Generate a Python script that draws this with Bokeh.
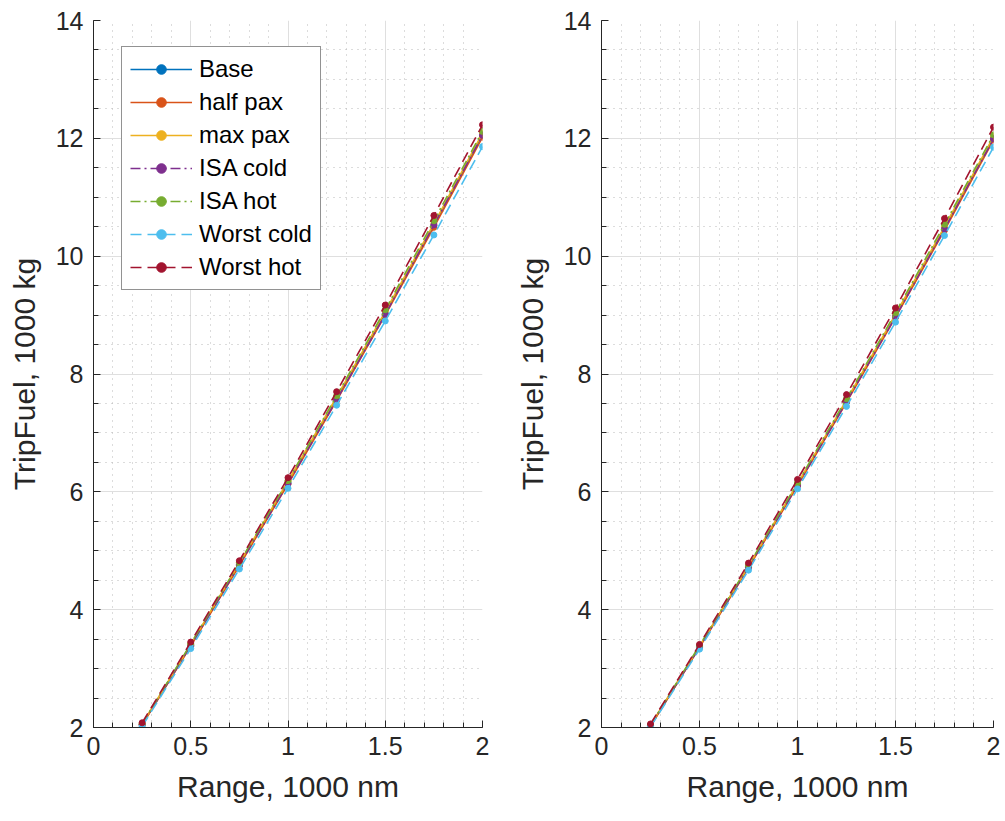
import numpy as np
from bokeh.plotting import figure
from bokeh.layouts import row
from bokeh.models import Range1d, FixedTicker, Legend, LegendItem
from bokeh.embed import file_html
from bokeh.resources import INLINE

rng = [0.25, 0.5, 0.75, 1.0, 1.25, 1.5, 1.75, 2.0]
names = ["Base", "half pax", "max pax", "ISA cold", "ISA hot", "Worst cold", "Worst hot"]

left_base = [2.05, 3.40, 4.77, 6.16, 7.58, 9.03, 10.52, 12.06]
left_half = [2.04, 3.38, 4.75, 6.13, 7.55, 9.00, 10.49, 12.02]
left_max = [2.06, 3.41, 4.79, 6.18, 7.61, 9.06, 10.55, 12.09]
left_isacold = [2.05, 3.39, 4.76, 6.14, 7.56, 9.01, 10.53, 12.05]
left_isahot = [2.06, 3.42, 4.80, 6.19, 7.63, 9.09, 10.60, 12.12]
left_worstcold = [2.02, 3.34, 4.69, 6.06, 7.47, 8.90, 10.36, 11.86]
left_worsthot = [2.08, 3.45, 4.83, 6.24, 7.70, 9.17, 10.69, 12.23]

right_base = [2.03, 3.37, 4.73, 6.12, 7.54, 8.99, 10.47, 12.00]
right_half = [2.02, 3.36, 4.71, 6.10, 7.52, 8.96, 10.44, 11.97]
right_max = [2.04, 3.38, 4.74, 6.14, 7.56, 9.01, 10.50, 12.03]
right_isacold = [2.03, 3.36, 4.72, 6.11, 7.53, 8.97, 10.46, 11.99]
right_isahot = [2.04, 3.39, 4.75, 6.15, 7.58, 9.04, 10.54, 12.06]
right_worstcold = [2.01, 3.33, 4.67, 6.05, 7.45, 8.88, 10.35, 11.85]
right_worsthot = [2.06, 3.41, 4.79, 6.21, 7.65, 9.12, 10.64, 12.19]

x_ticks = [0, 0.5, 1, 1.5, 2]
x_tick_labels = ["0", "0.5", "1", "1.5", "2"]
y_ticks = [2, 4, 6, 8, 10, 12, 14]
y_tick_labels = ["2", "4", "6", "8", "10", "12", "14"]

colors = ["#0072BD", "#D95319", "#EDB120", "#7E2F8E", "#77AC30", "#4DBEEE", "#A2142F"]
dashes = ["solid", "solid", "solid", "10 4 2 4", "10 4 2 4", "11 6", "11 6"]

FONT = "Liberation Sans"
AX = "#262626"


def make_fig(series, width, left, right, top, bottom, legend):
    p = figure(width=width, height=821, output_backend="svg", toolbar_location=None,
               x_range=Range1d(0, 2), y_range=Range1d(2, 14),
               min_border_left=left, min_border_right=right,
               min_border_top=top, min_border_bottom=bottom)
    p.outline_line_color = None
    p.background_fill_color = "white"
    p.border_fill_color = "white"
    p.xaxis.ticker = FixedTicker(ticks=x_ticks, minor_ticks=list(np.round(np.arange(0, 2.001, 0.1), 2)))
    p.yaxis.ticker = FixedTicker(ticks=y_ticks, minor_ticks=list(np.arange(2, 14.01, 0.5)))
    p.xaxis.major_label_overrides = {t: l for t, l in zip(x_ticks, x_tick_labels)}
    p.yaxis.major_label_overrides = {t: l for t, l in zip(y_ticks, y_tick_labels)}
    for ax in (p.xaxis, p.yaxis):
        ax.axis_line_color = AX
        ax.axis_line_width = 1
        ax.major_tick_line_color = AX
        ax.minor_tick_line_color = AX
        ax.major_tick_in = 7
        ax.major_tick_out = 0
        ax.minor_tick_in = 5
        ax.minor_tick_out = 0
        ax.major_label_text_font = FONT
        ax.major_label_text_font_size = "25px"
        ax.major_label_text_color = AX
        ax.axis_label_text_font = FONT
        ax.axis_label_text_font_size = "30px"
        ax.axis_label_text_font_style = "normal"
        ax.axis_label_text_color = AX
    p.xaxis.axis_label = "Range, 1000 nm"
    p.yaxis.axis_label = "TripFuel, 1000 kg"
    p.xaxis.major_label_standoff = 9
    p.yaxis.major_label_standoff = 10
    p.xaxis.axis_label_standoff = 12
    p.yaxis.axis_label_standoff = 12
    p.grid.grid_line_color = "#DFDFDF"
    p.grid.grid_line_width = 1
    p.grid.minor_grid_line_color = "#B8B8B8"
    p.grid.minor_grid_line_dash = "1 5"
    p.grid.minor_grid_line_width = 1
    items = []
    for name, ys, c, d in zip(names, series, colors, dashes):
        r1 = p.line(rng, ys, line_color=c, line_width=1.6, line_dash=d)
        r2 = p.scatter(rng, ys, size=6, fill_color=c, line_color=c)
        items.append(LegendItem(label=name, renderers=[r1, r2]))
    if legend:
        lg = Legend(items=items, location=(28, 437))
        lg.label_text_font = FONT
        lg.label_text_font_size = "24px"
        lg.label_text_color = "black"
        lg.border_line_color = "#262626"
        lg.border_line_width = 1
        lg.glyph_width = 62
        lg.glyph_height = 24
        lg.label_height = 24
        lg.spacing = 5
        lg.padding = 8
        lg.margin = 0
        lg.label_standoff = 7
        lg.background_fill_alpha = 1
        p.add_layout(lg, "center")
    return p


left_series = [left_base, left_half, left_max, left_isacold, left_isahot, left_worstcold, left_worsthot]
right_series = [right_base, right_half, right_max, right_isacold, right_isahot, right_worstcold, right_worsthot]

p1 = make_fig(left_series, 502, 93, 20, 17, 94, True)
p2 = make_fig(right_series, 503, 99, 12, 20, 94, False)

layout = row(p1, p2)
open("out.html", "w").write(file_html(layout, INLINE))
